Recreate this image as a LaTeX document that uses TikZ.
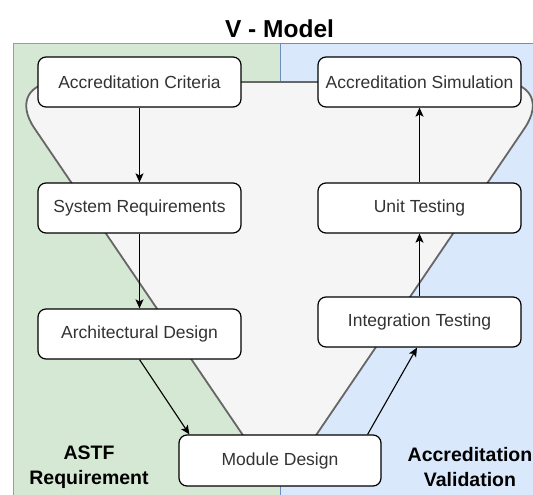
\documentclass[tikz,border=0pt]{standalone}
\usepackage{fontspec}
\setmainfont{Liberation Sans}
\usetikzlibrary{arrows.meta}
\definecolor{greenfill}{HTML}{D5E8D4}
\definecolor{greenline}{HTML}{82B366}
\definecolor{bluefill}{HTML}{DAE8FC}
\definecolor{blueline}{HTML}{6C8EBF}
\definecolor{vfill}{HTML}{F5F5F5}
\definecolor{vline}{HTML}{666666}
\definecolor{txt}{HTML}{333333}
\tikzset{
  stepbox/.style={draw=black, fill=white, rounded corners=8pt, line width=1.2pt,
    minimum width=203pt, minimum height=50pt, inner sep=0pt,
    font=\fontsize{17.5}{20}\selectfont, text=txt},
  flow/.style={draw=black, line width=1.1pt, -{Stealth[length=9pt,width=8pt,inset=2pt]}},
  sidelabel/.style={font=\bfseries\fontsize{19.5}{24.5}\selectfont, align=center, inner sep=0pt, text=black},
}
\begin{document}
\begin{tikzpicture}[x=1pt,y=-1pt]
\useasboundingbox (0,0) rectangle (533,495);
\begin{scope}
\clip (0,0) rectangle (533,495);
\draw[fill=greenfill, draw=greenline, line width=1pt] (13,44) rectangle (280,505);
\draw[fill=bluefill, draw=blueline, line width=1pt] (280,44) rectangle (545,505);
\draw[fill=vfill, draw=vline, line width=1.8pt, rounded corners=56pt]
  (279.5,82) -- (556,82) -- (279.5,489) -- (3,82) -- cycle;
\end{scope}

\node[font=\bfseries\fontsize{24.5}{28}\selectfont, inner sep=0pt] (title) at (279.5,28.5) {V - Model};

\node[stepbox] (ac) at (139.5,82) {Accreditation Criteria};
\node[stepbox] (as) at (419.5,82) {Accreditation Simulation};
\node[stepbox] (sr) at (139.5,208) {System Requirements};
\node[stepbox] (ut) at (419.5,208) {Unit Testing};
\node[stepbox] (ad) at (139.5,334) {Architectural Design};
\node[stepbox] (it) at (419.5,322) {Integration Testing};
\node[stepbox, minimum width=202pt, minimum height=51pt] (md) at (280,460.5) {Module Design};

\node[sidelabel] (lreq) at (89,467) {ASTF\\Requirement};
\node[sidelabel] (lval) at (470,467) {Accreditation\\Validation};

\draw[flow] (ac) -- (sr);
\draw[flow] (sr) -- (ad);
\draw[flow] (ad.south) -- ([xshift=11pt]md.north west);
\draw[flow] ([xshift=-14pt]md.north east) -- ([xshift=-2.5pt]it.south);
\draw[flow] (it) -- (ut);
\draw[flow] (ut) -- (as);
\end{tikzpicture}
\end{document}
